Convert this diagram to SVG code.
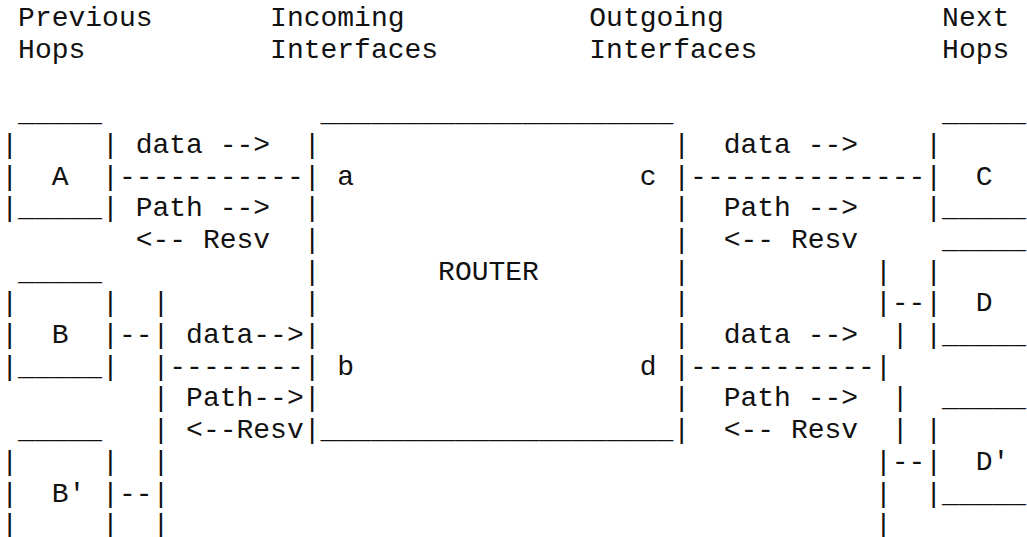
<svg xmlns="http://www.w3.org/2000/svg" width="1027" height="537" viewBox="0 0 1027 537">
<style>
text{font-family:"Liberation Mono","Courier New",monospace;font-size:28px;fill:#111;white-space:pre}
</style>
<rect width="1027" height="537" fill="#fff"/>
<g id="headers" xml:space="preserve">
<text x="18.1" y="26">Previous</text>
<text x="270.1" y="26">Incoming</text>
<text x="589.3" y="26">Outgoing</text>
<text x="942.1" y="26">Next</text>
<text x="18.1" y="57.7">Hops</text>
<text x="270.1" y="57.7">Interfaces</text>
<text x="589.3" y="57.7">Interfaces</text>
<text x="942.1" y="57.7">Hops</text>
</g>
<g id="node-A" xml:space="preserve">
<text x="18.1" y="121.1">_____</text>
<text x="1.3" y="152.8">|     |</text>
<text x="1.3" y="184.5">|  A  |</text>
<text x="1.3" y="216.2">|_____|</text>
</g>
<g id="node-B" xml:space="preserve">
<text x="18.1" y="279.6">_____</text>
<text x="1.3" y="311.3">|     |</text>
<text x="1.3" y="343">|  B  |</text>
<text x="1.3" y="374.7">|_____|</text>
</g>
<g id="node-Bprime" xml:space="preserve">
<text x="18.1" y="438.1">_____</text>
<text x="1.3" y="469.8">|     |</text>
<text x="1.3" y="501.5">|  B' |</text>
<text x="1.3" y="533.2">|     |</text>
</g>
<g id="node-router" xml:space="preserve">
<text x="320.5" y="121.1">_____________________</text>
<text x="303.7" y="152.8">|                     |</text>
<text x="303.7" y="184.5">| a                 c |</text>
<text x="303.7" y="216.2">|                     |</text>
<text x="303.7" y="247.9">|                     |</text>
<text x="303.7" y="279.6">|       ROUTER        |</text>
<text x="303.7" y="311.3">|                     |</text>
<text x="303.7" y="343">|                     |</text>
<text x="303.7" y="374.7">| b                 d |</text>
<text x="303.7" y="406.4">|                     |</text>
<text x="303.7" y="438.1">|_____________________|</text>
</g>
<g id="node-C" xml:space="preserve">
<text x="942.1" y="121.1">_____</text>
<text x="925.3" y="152.8">|</text>
<text x="925.3" y="184.5">|  C</text>
<text x="925.3" y="216.2">|_____</text>
</g>
<g id="node-D" xml:space="preserve">
<text x="942.1" y="247.9">_____</text>
<text x="925.3" y="279.6">|</text>
<text x="925.3" y="311.3">|  D</text>
<text x="925.3" y="343">|_____</text>
</g>
<g id="node-Dprime" xml:space="preserve">
<text x="942.1" y="406.4">_____</text>
<text x="925.3" y="438.1">|</text>
<text x="925.3" y="469.8">|  D'</text>
<text x="925.3" y="501.5">|_____</text>
</g>
<g id="connectors" xml:space="preserve">
<text x="135.7" y="152.8">data --&gt;</text>
<text x="118.9" y="184.5">-----------</text>
<text x="135.7" y="216.2">Path --&gt;</text>
<text x="135.7" y="247.9">&lt;-- Resv</text>
<text x="152.5" y="311.3">|</text>
<text x="118.9" y="343">--| data--&gt;</text>
<text x="152.5" y="374.7">|--------</text>
<text x="152.5" y="406.4">| Path--&gt;</text>
<text x="152.5" y="438.1">| &lt;--Resv</text>
<text x="152.5" y="469.8">|</text>
<text x="118.9" y="501.5">--|</text>
<text x="152.5" y="533.2">|</text>
<text x="723.7" y="152.8">data --&gt;</text>
<text x="690.1" y="184.5">--------------</text>
<text x="723.7" y="216.2">Path --&gt;</text>
<text x="723.7" y="247.9">&lt;-- Resv</text>
<text x="874.9" y="279.6">|</text>
<text x="874.9" y="311.3">|--</text>
<text x="723.7" y="343">data --&gt;  |</text>
<text x="690.1" y="374.7">-----------|</text>
<text x="723.7" y="406.4">Path --&gt;  |</text>
<text x="723.7" y="438.1">&lt;-- Resv  |</text>
<text x="874.9" y="469.8">|--</text>
<text x="874.9" y="501.5">|</text>
<text x="874.9" y="533.2">|</text>
</g>
</svg>
